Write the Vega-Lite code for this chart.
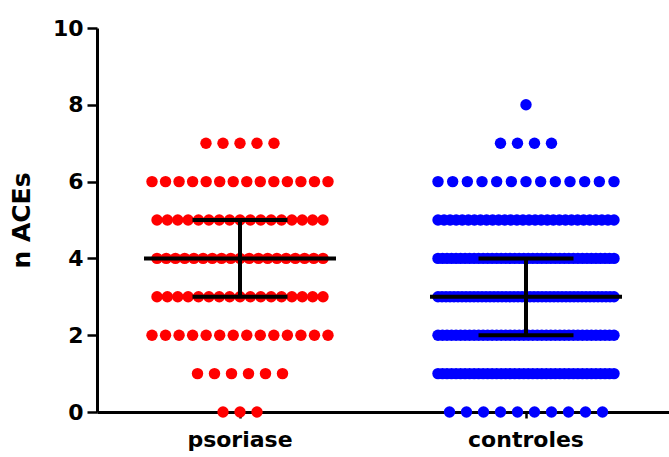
{
  "$schema": "https://vega.github.io/schema/vega-lite/v6.json",
  "width": 572,
  "height": 384,
  "autosize": "none",
  "padding": {"left": 97, "top": 28, "right": 0, "bottom": 45},
  "background": "white",
  "config": {
    "view": {"stroke": null},
    "font": "DejaVu Sans",
    "axis": {
      "domainColor": "black", "domainWidth": 3, "tickColor": "black", "tickWidth": 2.5,
      "labelColor": "black", "labelFont": "DejaVu Sans", "labelFontWeight": "bold", "labelFontSize": 22,
      "titleColor": "black", "titleFont": "DejaVu Sans", "titleFontWeight": "bold", "titleFontSize": 25,
      "grid": false
    }
  },
  "data": {"values": [
    {"g":"psoriase","v":0},{"g":"psoriase","v":0},{"g":"psoriase","v":0},
    {"g":"psoriase","v":1},{"g":"psoriase","v":1},{"g":"psoriase","v":1},{"g":"psoriase","v":1},{"g":"psoriase","v":1},{"g":"psoriase","v":1},
    {"g":"psoriase","v":2},{"g":"psoriase","v":2},{"g":"psoriase","v":2},{"g":"psoriase","v":2},{"g":"psoriase","v":2},{"g":"psoriase","v":2},{"g":"psoriase","v":2},{"g":"psoriase","v":2},{"g":"psoriase","v":2},{"g":"psoriase","v":2},{"g":"psoriase","v":2},{"g":"psoriase","v":2},{"g":"psoriase","v":2},{"g":"psoriase","v":2},
    {"g":"psoriase","v":3},{"g":"psoriase","v":3},{"g":"psoriase","v":3},{"g":"psoriase","v":3},{"g":"psoriase","v":3},{"g":"psoriase","v":3},{"g":"psoriase","v":3},{"g":"psoriase","v":3},{"g":"psoriase","v":3},{"g":"psoriase","v":3},{"g":"psoriase","v":3},{"g":"psoriase","v":3},{"g":"psoriase","v":3},{"g":"psoriase","v":3},{"g":"psoriase","v":3},{"g":"psoriase","v":3},{"g":"psoriase","v":3},
    {"g":"psoriase","v":4},{"g":"psoriase","v":4},{"g":"psoriase","v":4},{"g":"psoriase","v":4},{"g":"psoriase","v":4},{"g":"psoriase","v":4},{"g":"psoriase","v":4},{"g":"psoriase","v":4},{"g":"psoriase","v":4},{"g":"psoriase","v":4},{"g":"psoriase","v":4},{"g":"psoriase","v":4},{"g":"psoriase","v":4},{"g":"psoriase","v":4},{"g":"psoriase","v":4},{"g":"psoriase","v":4},{"g":"psoriase","v":4},{"g":"psoriase","v":4},{"g":"psoriase","v":4},
    {"g":"psoriase","v":5},{"g":"psoriase","v":5},{"g":"psoriase","v":5},{"g":"psoriase","v":5},{"g":"psoriase","v":5},{"g":"psoriase","v":5},{"g":"psoriase","v":5},{"g":"psoriase","v":5},{"g":"psoriase","v":5},{"g":"psoriase","v":5},{"g":"psoriase","v":5},{"g":"psoriase","v":5},{"g":"psoriase","v":5},{"g":"psoriase","v":5},{"g":"psoriase","v":5},{"g":"psoriase","v":5},{"g":"psoriase","v":5},
    {"g":"psoriase","v":6},{"g":"psoriase","v":6},{"g":"psoriase","v":6},{"g":"psoriase","v":6},{"g":"psoriase","v":6},{"g":"psoriase","v":6},{"g":"psoriase","v":6},{"g":"psoriase","v":6},{"g":"psoriase","v":6},{"g":"psoriase","v":6},{"g":"psoriase","v":6},{"g":"psoriase","v":6},{"g":"psoriase","v":6},{"g":"psoriase","v":6},
    {"g":"psoriase","v":7},{"g":"psoriase","v":7},{"g":"psoriase","v":7},{"g":"psoriase","v":7},{"g":"psoriase","v":7},
    {"g":"controles","v":0},{"g":"controles","v":0},{"g":"controles","v":0},{"g":"controles","v":0},{"g":"controles","v":0},{"g":"controles","v":0},{"g":"controles","v":0},{"g":"controles","v":0},{"g":"controles","v":0},{"g":"controles","v":0},
    {"g":"controles","v":1},{"g":"controles","v":1},{"g":"controles","v":1},{"g":"controles","v":1},{"g":"controles","v":1},{"g":"controles","v":1},{"g":"controles","v":1},{"g":"controles","v":1},{"g":"controles","v":1},{"g":"controles","v":1},
    {"g":"controles","v":1},{"g":"controles","v":1},{"g":"controles","v":1},{"g":"controles","v":1},{"g":"controles","v":1},{"g":"controles","v":1},{"g":"controles","v":1},{"g":"controles","v":1},{"g":"controles","v":1},{"g":"controles","v":1},
    {"g":"controles","v":1},{"g":"controles","v":1},{"g":"controles","v":1},{"g":"controles","v":1},{"g":"controles","v":1},{"g":"controles","v":1},{"g":"controles","v":1},{"g":"controles","v":1},{"g":"controles","v":1},{"g":"controles","v":1},
    {"g":"controles","v":1},{"g":"controles","v":1},{"g":"controles","v":1},{"g":"controles","v":1},{"g":"controles","v":1},{"g":"controles","v":1},{"g":"controles","v":1},{"g":"controles","v":1},{"g":"controles","v":1},{"g":"controles","v":1},
    {"g":"controles","v":2},{"g":"controles","v":2},{"g":"controles","v":2},{"g":"controles","v":2},{"g":"controles","v":2},{"g":"controles","v":2},{"g":"controles","v":2},{"g":"controles","v":2},{"g":"controles","v":2},{"g":"controles","v":2},
    {"g":"controles","v":2},{"g":"controles","v":2},{"g":"controles","v":2},{"g":"controles","v":2},{"g":"controles","v":2},{"g":"controles","v":2},{"g":"controles","v":2},{"g":"controles","v":2},{"g":"controles","v":2},{"g":"controles","v":2},
    {"g":"controles","v":2},{"g":"controles","v":2},{"g":"controles","v":2},{"g":"controles","v":2},{"g":"controles","v":2},{"g":"controles","v":2},{"g":"controles","v":2},{"g":"controles","v":2},{"g":"controles","v":2},{"g":"controles","v":2},
    {"g":"controles","v":2},{"g":"controles","v":2},{"g":"controles","v":2},{"g":"controles","v":2},{"g":"controles","v":2},{"g":"controles","v":2},{"g":"controles","v":2},{"g":"controles","v":2},{"g":"controles","v":2},{"g":"controles","v":2},
    {"g":"controles","v":3},{"g":"controles","v":3},{"g":"controles","v":3},{"g":"controles","v":3},{"g":"controles","v":3},{"g":"controles","v":3},{"g":"controles","v":3},{"g":"controles","v":3},{"g":"controles","v":3},{"g":"controles","v":3},
    {"g":"controles","v":3},{"g":"controles","v":3},{"g":"controles","v":3},{"g":"controles","v":3},{"g":"controles","v":3},{"g":"controles","v":3},{"g":"controles","v":3},{"g":"controles","v":3},{"g":"controles","v":3},{"g":"controles","v":3},
    {"g":"controles","v":3},{"g":"controles","v":3},{"g":"controles","v":3},{"g":"controles","v":3},{"g":"controles","v":3},{"g":"controles","v":3},{"g":"controles","v":3},{"g":"controles","v":3},{"g":"controles","v":3},{"g":"controles","v":3},
    {"g":"controles","v":3},{"g":"controles","v":3},{"g":"controles","v":3},{"g":"controles","v":3},{"g":"controles","v":3},{"g":"controles","v":3},{"g":"controles","v":3},{"g":"controles","v":3},{"g":"controles","v":3},{"g":"controles","v":3},
    {"g":"controles","v":3},{"g":"controles","v":3},{"g":"controles","v":3},{"g":"controles","v":3},{"g":"controles","v":3},
    {"g":"controles","v":4},{"g":"controles","v":4},{"g":"controles","v":4},{"g":"controles","v":4},{"g":"controles","v":4},{"g":"controles","v":4},{"g":"controles","v":4},{"g":"controles","v":4},{"g":"controles","v":4},{"g":"controles","v":4},
    {"g":"controles","v":4},{"g":"controles","v":4},{"g":"controles","v":4},{"g":"controles","v":4},{"g":"controles","v":4},{"g":"controles","v":4},{"g":"controles","v":4},{"g":"controles","v":4},{"g":"controles","v":4},{"g":"controles","v":4},
    {"g":"controles","v":4},{"g":"controles","v":4},{"g":"controles","v":4},{"g":"controles","v":4},{"g":"controles","v":4},{"g":"controles","v":4},{"g":"controles","v":4},{"g":"controles","v":4},{"g":"controles","v":4},{"g":"controles","v":4},
    {"g":"controles","v":4},{"g":"controles","v":4},{"g":"controles","v":4},{"g":"controles","v":4},{"g":"controles","v":4},{"g":"controles","v":4},{"g":"controles","v":4},{"g":"controles","v":4},{"g":"controles","v":4},{"g":"controles","v":4},
    {"g":"controles","v":5},{"g":"controles","v":5},{"g":"controles","v":5},{"g":"controles","v":5},{"g":"controles","v":5},{"g":"controles","v":5},{"g":"controles","v":5},{"g":"controles","v":5},{"g":"controles","v":5},{"g":"controles","v":5},
    {"g":"controles","v":5},{"g":"controles","v":5},{"g":"controles","v":5},{"g":"controles","v":5},{"g":"controles","v":5},{"g":"controles","v":5},{"g":"controles","v":5},{"g":"controles","v":5},{"g":"controles","v":5},{"g":"controles","v":5},
    {"g":"controles","v":5},{"g":"controles","v":5},{"g":"controles","v":5},{"g":"controles","v":5},{"g":"controles","v":5},{"g":"controles","v":5},{"g":"controles","v":5},{"g":"controles","v":5},{"g":"controles","v":5},{"g":"controles","v":5},
    {"g":"controles","v":6},{"g":"controles","v":6},{"g":"controles","v":6},{"g":"controles","v":6},{"g":"controles","v":6},{"g":"controles","v":6},{"g":"controles","v":6},{"g":"controles","v":6},{"g":"controles","v":6},{"g":"controles","v":6},{"g":"controles","v":6},{"g":"controles","v":6},{"g":"controles","v":6},
    {"g":"controles","v":7},{"g":"controles","v":7},{"g":"controles","v":7},{"g":"controles","v":7},
    {"g":"controles","v":8}
  ]},
  "encoding": {
    "x": {
      "field": "g", "type": "nominal", "sort": ["psoriase", "controles"],
      "scale": {"paddingInner": 0, "paddingOuter": 0},
      "axis": {"title": null, "labelAngle": 0, "tickSize": 6, "labelPadding": 11}
    }
  },
  "layer": [
    {
      "transform": [
        {"window": [{"op": "row_number", "as": "k"}], "groupby": ["g", "v"]},
        {"joinaggregate": [{"op": "count", "as": "cnt"}], "groupby": ["g", "v"]},
        {"calculate": "(datum.k - (datum.cnt + 1) / 2) * min(17, ((datum.cnt > 14 && datum.g == 'psoriase') ? 166 : 176) / max(datum.cnt - 1, 1))", "as": "off"}
      ],
      "mark": {"type": "circle", "size": 130, "opacity": 1},
      "encoding": {
        "xOffset": {"field": "off", "type": "quantitative", "scale": {"domain": [-143, 143]}},
        "y": {
          "field": "v", "type": "quantitative",
          "scale": {"domain": [0, 10], "nice": false},
          "axis": {"title": "n ACEs", "values": [0, 2, 4, 6, 8, 10], "tickSize": 10, "labelPadding": 4, "titlePadding": 18}
        },
        "color": {
          "field": "g", "type": "nominal",
          "scale": {"domain": ["psoriase", "controles"], "range": ["#ff0000", "#0000ff"]},
          "legend": null
        }
      }
    },
    {
      "transform": [
        {"aggregate": [
          {"op": "median", "field": "v", "as": "med"},
          {"op": "q1", "field": "v", "as": "lo"},
          {"op": "q3", "field": "v", "as": "hi"}
        ], "groupby": ["g"]}
      ],
      "layer": [
        {"mark": {"type": "rule", "color": "black", "strokeWidth": 4},
         "encoding": {"y": {"field": "lo", "type": "quantitative"}, "y2": {"field": "hi"}}},
        {"mark": {"type": "tick", "color": "black", "thickness": 4, "size": 192, "opacity": 1},
         "encoding": {"y": {"field": "med", "type": "quantitative"}}},
        {"mark": {"type": "tick", "color": "black", "thickness": 4, "size": 95, "opacity": 1},
         "encoding": {"y": {"field": "lo", "type": "quantitative"}}},
        {"mark": {"type": "tick", "color": "black", "thickness": 4, "size": 95, "opacity": 1},
         "encoding": {"y": {"field": "hi", "type": "quantitative"}}}
      ]
    }
  ]
}
